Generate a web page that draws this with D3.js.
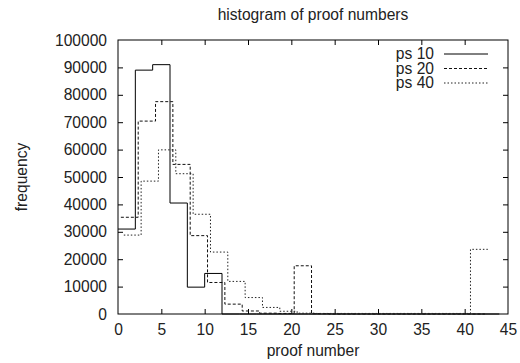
<!DOCTYPE html>
<html>
<head>
<meta charset="utf-8">
<script src="https://cdn.jsdelivr.net/npm/d3@7"></script>
<style>
  body { margin: 0; background: #fff; }
  svg { font-family: "Liberation Sans", Arial, sans-serif; }
</style>
</head>
<body>
<svg id="chart" width="520" height="363"></svg>
<script>
// bin centres (bin width 2) and counts
const ps10X = [1, 3, 5, 7, 9, 11, 13, 15, 17, 19, 21, 23, 25, 27, 29, 31, 33, 35, 37, 39, 41, 43];
const ps10Y = [31000, 89000, 91000, 40500, 9800, 14800, 0, 0, 0, 0, 0, 0, 0, 0, 0, 0, 0, 0, 0, 0, 0, 0];

const ps20X = [1.33, 3.33, 5.33, 7.33, 9.33, 11.33, 13.33, 15.33, 17.33, 19.33, 21.33, 23.33, 25.33, 27.33, 29.33, 31.33, 33.33, 35.33, 37.33, 39.33, 41.33];
const ps20Y = [35300, 70400, 77500, 54600, 28600, 11500, 3600, 1100, 300, 200, 17600, 100, 0, 0, 0, 0, 0, 0, 0, 0, 0];

const ps40X = [1.67, 3.67, 5.67, 7.67, 9.67, 11.67, 13.67, 15.67, 17.67, 19.67, 21.67, 23.67, 25.67, 27.67, 29.67, 31.67, 33.67, 35.67, 37.67, 39.67, 41.67];
const ps40Y = [28800, 48500, 59900, 51200, 36400, 22600, 11900, 6000, 2400, 1000, 300, 200, 200, 200, 200, 200, 200, 200, 200, 200, 23600];

const seriesNames = ['ps 10', 'ps 20', 'ps 40'];
const xTicks = [0, 5, 10, 15, 20, 25, 30, 35, 40, 45];
const yTicks = [0, 10000, 20000, 30000, 40000, 50000, 60000, 70000, 80000, 90000, 100000];

const binWidth = 2;

const svg = d3.select('#chart');
const margin = { top: 40, right: 12, bottom: 49, left: 118 };
const width = 520 - margin.left - margin.right,
  height = 363 - margin.top - margin.bottom;
const g = svg.append('g').attr('transform', `translate(${margin.left},${margin.top})`);

const x = d3.scaleLinear().domain([0, 45]).range([0, width]);
const y = d3.scaleLinear().domain([0, 100000]).range([height, 0]);

// axes, ticks pointing inward, mirrored on top and right
const fontSize = '15.6px';
const bottomAxis = g.append('g').attr('transform', `translate(0,${height})`)
  .call(d3.axisBottom(x).tickValues(xTicks).tickSize(-5).tickPadding(10).tickFormat(d3.format('d')));
const topAxis = g.append('g')
  .call(d3.axisTop(x).tickValues(xTicks).tickSize(-5).tickFormat(''));
const leftAxis = g.append('g')
  .call(d3.axisLeft(y).tickValues(yTicks).tickSize(-5).tickPadding(11).tickFormat(d3.format('d')));
const rightAxis = g.append('g').attr('transform', `translate(${width},0)`)
  .call(d3.axisRight(y).tickValues(yTicks).tickSize(-5).tickFormat(''));

[bottomAxis, topAxis, leftAxis, rightAxis].forEach(a => {
  a.select('.domain').remove();
  a.selectAll('.tick line').attr('stroke', '#000').attr('stroke-width', 1);
  a.selectAll('text').attr('font-size', fontSize).attr('font-family', 'Liberation Sans, Arial, sans-serif').attr('fill', '#222');
});
// drop end ticks that sit on the frame corners
[bottomAxis, topAxis].forEach(a => a.selectAll('.tick line').filter(d => d === 0 || d === 45).remove());
[leftAxis, rightAxis].forEach(a => a.selectAll('.tick line').filter(d => d === 0 || d === 100000).remove());

// frame
g.append('rect')
  .attr('x', 0).attr('y', 0).attr('width', width).attr('height', height)
  .attr('fill', 'none').attr('stroke', '#000').attr('stroke-width', 1);

// histogram steps (gnuplot histeps style)
function stepPoints(xs, ys) {
  const pts = [];
  xs.forEach((c, i) => {
    pts.push({ x: c - binWidth / 2, y: ys[i] });
    pts.push({ x: Math.min(c + binWidth / 2, 45), y: ys[i] });
  });
  return pts;
}

const line = d3.line()
  .x(d => x(d.x))
  .y(d => y(d.y));

const styles = [
  { dash: null, color: '#000' },
  { dash: '3,2', color: '#111' },
  { dash: '1.5,2', color: '#222' }
];
const series = [[ps10X, ps10Y], [ps20X, ps20Y], [ps40X, ps40Y]];

series.forEach((s, i) => {
  g.append('path')
    .datum(stepPoints(s[0], s[1]))
    .attr('fill', 'none')
    .attr('stroke', styles[i].color)
    .attr('stroke-width', 1)
    .attr('stroke-dasharray', styles[i].dash)
    .attr('d', line);
});

// legend
seriesNames.forEach((name, i) => {
  const yy = 14.5 * i;
  svg.append('text')
    .attr('x', 434).attr('y', 59 + yy)
    .attr('text-anchor', 'end')
    .attr('font-size', fontSize)
    .attr('fill', '#222')
    .text(name);
  svg.append('line')
    .attr('x1', 444).attr('x2', 488)
    .attr('y1', 54 + yy).attr('y2', 54 + yy)
    .attr('stroke', styles[i].color)
    .attr('stroke-width', 1)
    .attr('stroke-dasharray', styles[i].dash);
});

// title and axis labels
svg.append('text')
  .attr('x', margin.left + width / 2).attr('y', 20)
  .attr('text-anchor', 'middle').attr('font-size', fontSize).attr('fill', '#222')
  .text('histogram of proof numbers');

svg.append('text')
  .attr('x', margin.left + width / 2).attr('y', 356)
  .attr('text-anchor', 'middle').attr('font-size', fontSize).attr('fill', '#222')
  .text('proof number');

svg.append('text')
  .attr('transform', `translate(27,${margin.top + height / 2}) rotate(-90)`)
  .attr('text-anchor', 'middle').attr('font-size', fontSize).attr('fill', '#222')
  .text('frequency');
</script>
</body>
</html>
